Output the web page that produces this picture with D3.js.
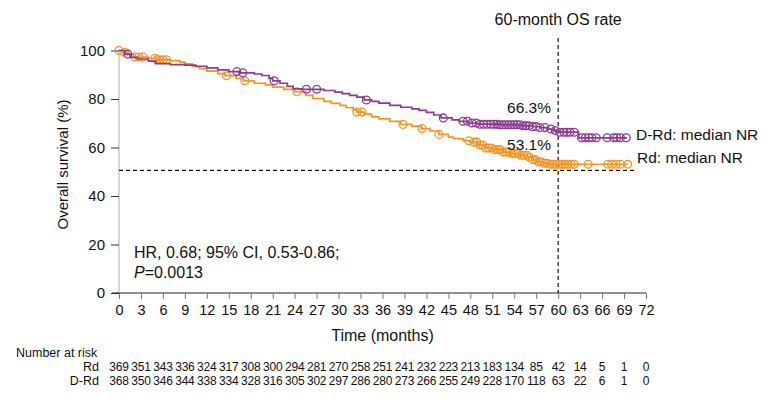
<!DOCTYPE html>
<html>
<head>
<meta charset="utf-8">
<script src="https://cdn.jsdelivr.net/npm/d3@7"></script>
<style>
  body { margin: 0; background: #fff; }
  svg { font-family: "Liberation Sans", Arial, sans-serif; }
</style>
</head>
<body>
<div id="chart"></div>
<script>
// step points of the KM curves: [month, survival %]
const drdSteps = [[0,100],[0.8,98.5],[1.5,97.2],[2.5,96.5],[4,95.6],[5,94.6],[7,94.2],[9,94.0],[10.5,93.5],[12,92.8],[13.5,92.0],[15,91.3],[16.5,90.8],[18.5,90.3],[19.5,89.7],[20.5,88.5],[21,87.5],[22,86.5],[23,85.2],[23.8,84.2],[25,84.0],[28,83.5],[29.5,82.8],[30.5,82.2],[31.5,81.5],[32.5,80.8],[33.5,79.6],[34.5,79.0],[35.5,78.3],[37,77.4],[38.5,76.6],[40,75.9],[41,75.3],[42,74.5],[43,73.4],[44,72.2],[45.5,71.4],[46.5,70.8],[47.8,70.1],[49,69.6],[52,69.4],[55,69.0],[56.5,68.6],[57.5,68.2],[58.5,67.6],[59.3,67.0],[59.8,66.3],[62.8,64.0],[69.4,64.0]];
const rdSteps = [[0,100],[0.5,99.3],[1.2,98.5],[2,97.3],[4,96.8],[5,96.2],[7,95.8],[8.3,95.2],[9,94.5],[10,93.3],[11,92.5],[12,91.5],[13.5,90.5],[14.5,89.6],[16,88.5],[17,87.5],[18.5,86.5],[20,85.8],[21,84.9],[22.5,84.0],[24,83.0],[25.5,81.5],[26.5,80.2],[28,79.0],[29,78.2],[30.2,77.4],[31,76.5],[32,75.5],[32.5,74.6],[33.5,73.8],[34.5,72.6],[35.5,71.8],[37,70.8],[38.5,69.5],[40,68.8],[41.3,67.8],[42.5,66.8],[43.7,65.4],[45,64.3],[45.7,63.7],[47,62.8],[48,62.2],[49,61.0],[50,59.8],[51,59.2],[52.5,58.1],[53.5,57.5],[54.8,56.8],[55.8,56.0],[56.5,55.0],[57.1,54.1],[58,53.5],[58.6,53.1],[69.5,53.1]];

// censor times (months)
const drdCensor = [1.2,16.1,16.9,21.2,25.6,27.0,33.8,44.3,47.0,47.6,48.2,48.8,49.3,49.8,50.3,50.8,51.2,51.6,52.0,52.4,52.8,53.2,53.6,54.0,54.4,54.8,55.2,55.6,56.0,56.5,57.0,57.5,58.2,59.0,59.6,60.2,60.8,61.2,61.6,62.2,63.2,63.7,64.2,64.6,65.2,66.7,67.6,68.0,68.5,69.3];
const rdCensor = [0,0.8,2.2,2.7,3.3,4.9,5.2,5.6,6.0,6.5,14.7,17.2,24.3,32.5,33.2,38.8,41.4,43.7,47.8,48.5,48.9,49.3,49.7,50.1,50.5,50.9,51.3,51.7,52.1,52.5,52.9,53.3,53.7,54.1,54.5,54.9,55.3,55.7,56.1,56.5,56.9,57.3,57.7,58.1,58.5,58.9,59.3,59.7,60.1,60.5,60.9,61.3,61.7,62.2,64.1,66.8,67.3,67.9,68.5,69.5];

const xTicks = d3.range(0, 73, 3);
const yTicks = [0, 20, 40, 60, 80, 100];

const rdAtRisk = [369,351,343,336,324,317,308,300,294,281,270,258,251,241,232,223,213,183,134,85,42,14,5,1,0];
const drdAtRisk = [368,350,346,344,338,334,328,316,305,302,297,286,280,273,266,255,249,228,170,118,63,22,6,1,0];

const purple = "#8c3b91", orange = "#f7941d";

const w = 775, h = 399;
const svg = d3.select("#chart").append("svg").attr("width", w).attr("height", h);

const x = d3.scaleLinear().domain([0, 72]).range([119, 646]);
const y = d3.scaleLinear().domain([0, 100]).range([293, 50.5]);

// y axis
const yAxis = svg.append("g")
  .attr("transform", "translate(119,0)")
  .call(d3.axisLeft(y).tickValues(yTicks).tickSize(8).tickPadding(6));
yAxis.select(".domain").attr("stroke", "#c8c8c8").attr("stroke-width", 1.5).attr("d", "M0," + y(0) + "V" + y(100));
yAxis.selectAll(".tick line").attr("stroke", "#333");
yAxis.selectAll("text").style("font-size", "15px").attr("fill", "#111");

// x axis
const xAxis = svg.append("g")
  .attr("transform", "translate(0," + y(0) + ")")
  .call(d3.axisBottom(x).tickValues(xTicks).tickSize(6).tickPadding(6));
xAxis.select(".domain").attr("stroke", "#222").attr("d", "M112,0H" + x(72));
xAxis.selectAll(".tick line").attr("stroke", "#777");
xAxis.selectAll("text").style("font-size", "14.5px").attr("fill", "#111");

svg.append("text")
  .attr("x", (x(0) + x(72)) / 2).attr("y", 341)
  .attr("text-anchor", "middle").style("font-size", "16px").attr("fill", "#111")
  .text("Time (months)");

svg.append("text")
  .attr("transform", "translate(68," + y(53) + ") rotate(-90)")
  .attr("text-anchor", "middle").style("font-size", "15px").attr("fill", "#111")
  .text("Overall survival (%)");

// reference lines
svg.append("line")
  .attr("x1", x(0)).attr("x2", x(70.5)).attr("y1", y(50.6)).attr("y2", y(50.6))
  .attr("stroke", "#111").attr("stroke-width", 1.2).attr("stroke-dasharray", "4,3");
svg.append("line")
  .attr("x1", x(60)).attr("x2", x(60)).attr("y1", 38).attr("y2", y(0))
  .attr("stroke", "#111").attr("stroke-width", 1.2).attr("stroke-dasharray", "4,3");

svg.append("text")
  .attr("x", x(60)).attr("y", 25)
  .attr("text-anchor", "middle").style("font-size", "16px").attr("fill", "#111")
  .text("60-month OS rate");

// curves
const line = d3.line().x(d => x(d[0])).y(d => y(d[1])).curve(d3.curveStepAfter);

function survAt(steps, t) {
  let v = steps[0][1];
  for (const s of steps) { if (s[0] <= t) v = s[1]; }
  return v;
}

function drawCurve(steps, censor, color) {
  svg.append("path")
    .datum(steps)
    .attr("d", line)
    .attr("fill", "none")
    .attr("stroke", color)
    .attr("stroke-width", 1.7);
  svg.append("g").selectAll("circle")
    .data(censor)
    .enter()
    .append("circle")
    .attr("cx", d => x(d))
    .attr("cy", d => y(survAt(steps, d)))
    .attr("r", 3.9)
    .attr("fill", "none")
    .attr("stroke", color)
    .attr("stroke-width", 1.3);
}

drawCurve(rdSteps, rdCensor, orange);
drawCurve(drdSteps, drdCensor, purple);

// annotations
const annot = [
  {t: "66.3%", x: 529, y: 113},
  {t: "53.1%", x: 529, y: 150},
  {t: "D-Rd: median NR", x: 636, y: 140, a: "start"},
  {t: "Rd: median NR", x: 637, y: 163, a: "start"}
];
svg.selectAll(".annot")
  .data(annot)
  .enter()
  .append("text")
  .attr("x", d => d.x).attr("y", d => d.y)
  .attr("text-anchor", d => d.a || "middle")
  .style("font-size", "15.5px").attr("fill", "#111")
  .text(d => d.t);

svg.append("text")
  .attr("x", 134).attr("y", 258)
  .style("font-size", "16px").attr("fill", "#111")
  .text("HR, 0.68; 95% CI, 0.53-0.86;");
const pTxt = svg.append("text")
  .attr("x", 134).attr("y", 278)
  .style("font-size", "16px").attr("fill", "#111");
pTxt.append("tspan").style("font-style", "italic").text("P");
pTxt.append("tspan").text("=0.0013");

// number at risk
svg.append("text").attr("x", 16).attr("y", 357).style("font-size", "12.5px").attr("fill", "#111").text("Number at risk");
svg.append("text").attr("x", 99).attr("y", 371).attr("text-anchor", "end").style("font-size", "12.5px").attr("fill", "#111").text("Rd");
svg.append("text").attr("x", 99).attr("y", 385).attr("text-anchor", "end").style("font-size", "12.5px").attr("fill", "#111").text("D-Rd");

svg.append("g").selectAll("text")
  .data(rdAtRisk)
  .enter()
  .append("text")
  .attr("x", (d, i) => x(xTicks[i])).attr("y", 371)
  .attr("text-anchor", "middle").style("font-size", "12px").style("letter-spacing", "-0.2px").attr("fill", "#111")
  .text(d => d);
svg.append("g").selectAll("text")
  .data(drdAtRisk)
  .enter()
  .append("text")
  .attr("x", (d, i) => x(xTicks[i])).attr("y", 385)
  .attr("text-anchor", "middle").style("font-size", "12px").style("letter-spacing", "-0.2px").attr("fill", "#111")
  .text(d => d);
</script>
</body>
</html>
